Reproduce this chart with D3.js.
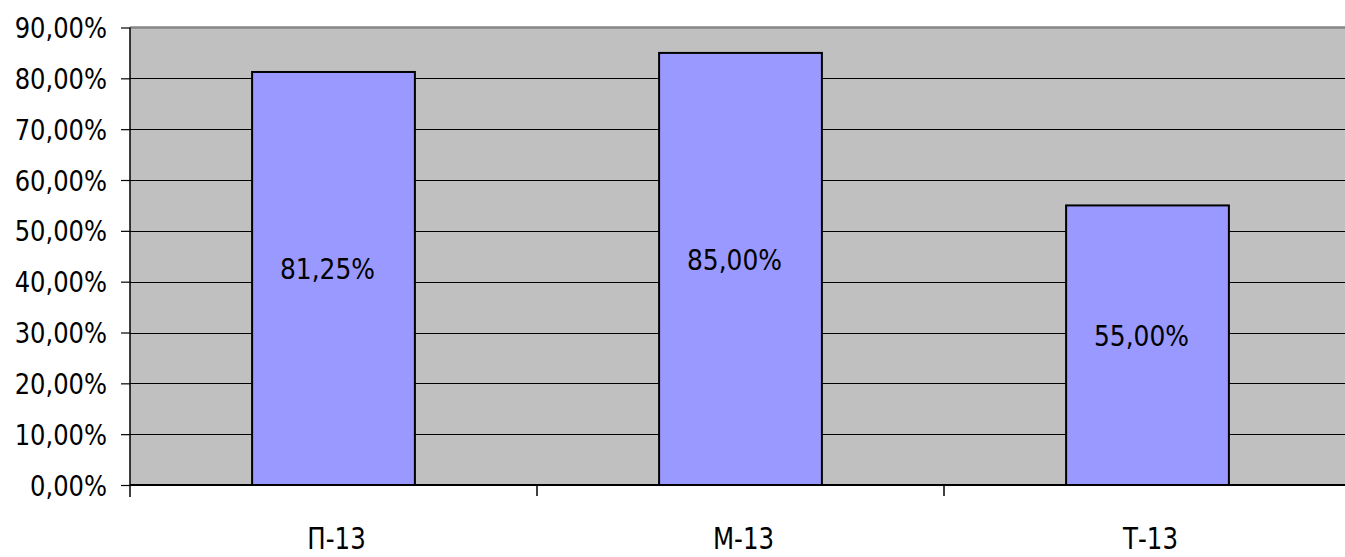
<!DOCTYPE html>
<html><head><meta charset="utf-8">
<script src="https://cdn.jsdelivr.net/npm/d3@7"></script>
<style>
body{margin:0;background:#fff;}
svg text{font-family:"DejaVu Sans",sans-serif;fill:#000;}
</style></head><body>
<svg id="c" width="1345" height="557"></svg>
<script>
const categories = ["П-13", "М-13", "Т-13"];
const values = [81.25, 85.00, 55.00];
const yTicks = [0, 10, 20, 30, 40, 50, 60, 70, 80, 90];

const fmt = v => v.toFixed(2).replace(".", ",") + "%";
const svg = d3.select("#c");
const L = 130, R = 1351, T = 27.5, B = 485;
const x = d3.scaleBand().domain(categories).range([L, R]).paddingInner(0.6).paddingOuter(0.3);
const xb = d3.scaleBand().domain(categories).range([L, R]);
const y = d3.scaleLinear().domain([0, 90]).range([B, T]);

function narrow(sel, k) {
  sel.each(function () {
    const w = this.getComputedTextLength();
    d3.select(this).attr("textLength", w * k).attr("lengthAdjust", "spacingAndGlyphs");
  });
}

svg.append("rect").attr("x", L).attr("y", T).attr("width", R - L).attr("height", B - T).attr("fill", "#c0c0c0");
svg.append("line").attr("x1", L).attr("x2", R).attr("y1", T).attr("y2", T).attr("stroke", "#868686").attr("stroke-width", 2.5);

svg.append("g").selectAll("line").data(yTicks.filter(t => t > 0 && t < 90)).join("line")
  .attr("x1", L).attr("x2", R).attr("y1", d => Math.round(y(d)) + 0.5).attr("y2", d => Math.round(y(d)) + 0.5)
  .attr("stroke", "#000").attr("stroke-width", 1.2);

// bars
svg.append("g").selectAll("rect").data(values).join("rect")
  .attr("x", (d, i) => x(categories[i]))
  .attr("width", x.bandwidth())
  .attr("y", d => y(d))
  .attr("height", d => B - y(d))
  .attr("fill", "#9999ff").attr("stroke", "#000").attr("stroke-width", 2);

// value labels
svg.append("g").selectAll("text").data(values).join("text")
  .attr("x", (d, i) => x(categories[i]) + x.bandwidth() / 2 - 6)
  .attr("y", d => (y(d) + B) / 2 + 1)
  .attr("text-anchor", "middle").attr("font-size", 29)
  .text(d => fmt(d))
  .call(narrow, 0.86);

// y axis
const yAxis = d3.axisLeft(y).tickValues(yTicks).tickSize(9).tickPadding(14).tickFormat(d => fmt(d));
const gy = svg.append("g").attr("transform", `translate(${L},0)`).call(yAxis);
gy.select(".domain").attr("stroke", "#000").attr("stroke-width", 1.5).attr("d", `M0,${T}V${B + 12}`);
gy.selectAll(".tick line").attr("stroke", "#000").attr("stroke-width", 1.2);
gy.selectAll(".tick text").attr("font-size", 28).attr("dy", "0.36em").attr("fill", "#000")
  .call(narrow, 0.865);

// x axis
const xAxis = d3.axisBottom(xb).tickSize(0).tickPadding(0);
const gx = svg.append("g").attr("transform", `translate(0,${B})`).call(xAxis);
gx.select(".domain").attr("stroke", "#000").attr("stroke-width", 2).attr("d", `M${L},0H${R}`);
gx.selectAll(".tick text").attr("font-size", 31).attr("y", 64).attr("dy", 0).attr("x", 3).attr("fill", "#000")
  .call(narrow, 0.79);
// category separators
svg.append("g").selectAll("line").data(categories.slice(1)).join("line")
  .attr("x1", d => xb(d)).attr("x2", d => xb(d)).attr("y1", B).attr("y2", B + 11)
  .attr("stroke", "#000").attr("stroke-width", 1.5);
</script></body></html>
